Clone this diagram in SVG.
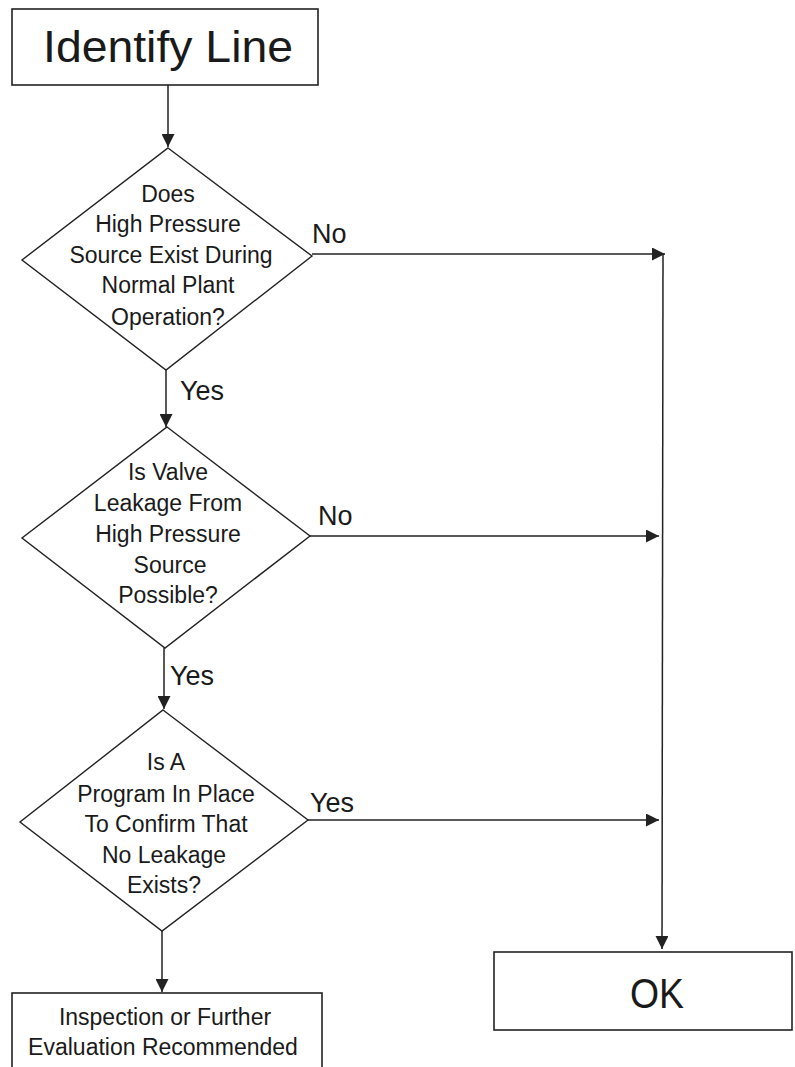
<svg xmlns="http://www.w3.org/2000/svg" width="795" height="1067" viewBox="0 0 795 1067">
  <style>
    .box { fill: #fff; stroke: #222; stroke-width: 1.6; }
    .dec { fill: #fff; stroke: #222; stroke-width: 1.4; }
    .link { fill: none; stroke: #222; stroke-width: 1.5; }
    text { font-family: "Liberation Sans", Arial, sans-serif; fill: #1a1a1a; }
    .big { font-size: 45px; text-anchor: middle; }
    .q { font-size: 23px; text-anchor: middle; }
    .lbl { font-size: 27px; }
    .ok { font-size: 42px; text-anchor: middle; }
  </style>
  <defs>
    <marker id="arrow" viewBox="0 0 10 10" refX="10" refY="5" markerUnits="userSpaceOnUse" markerWidth="15" markerHeight="13" orient="auto">
      <path d="M0,0 L10,5 L0,10 z" fill="#222"/>
    </marker>
  </defs>

  <!-- connectors -->
  <g id="connectors">
    <line class="link" x1="168" y1="85" x2="168" y2="147" marker-end="url(#arrow)"/>
    <line class="link" x1="166" y1="370" x2="166" y2="427" marker-end="url(#arrow)"/>
    <line class="link" x1="164" y1="648" x2="164" y2="709" marker-end="url(#arrow)"/>
    <line class="link" x1="162" y1="931" x2="162" y2="992" marker-end="url(#arrow)"/>
    <line class="link" x1="312" y1="254" x2="665" y2="254" marker-end="url(#arrow)"/>
    <line class="link" x1="310" y1="536" x2="659" y2="536" marker-end="url(#arrow)"/>
    <line class="link" x1="308" y1="820" x2="659" y2="820" marker-end="url(#arrow)"/>
    <line class="link" x1="663" y1="254" x2="662" y2="949" marker-end="url(#arrow)"/>
    <text class="lbl" x="312" y="243">No</text>
    <text class="lbl" x="318" y="525">No</text>
    <text class="lbl" x="310" y="812">Yes</text>
    <text class="lbl" x="180" y="400">Yes</text>
    <text class="lbl" x="170" y="685">Yes</text>
  </g>

  <g id="identify-line">
    <rect class="box" x="12" y="9" width="306" height="76"/>
    <text class="big" x="168" y="62" textLength="250" lengthAdjust="spacingAndGlyphs">Identify Line</text>
  </g>

  <g id="decision-high-pressure">
    <polygon class="dec" points="168,148 312,256 166,370 22,260"/>
    <text class="q" x="168" y="202">Does</text>
    <text class="q" x="168" y="232">High Pressure</text>
    <text class="q" x="171" y="263">Source Exist During</text>
    <text class="q" x="168" y="293">Normal Plant</text>
    <text class="q" x="168" y="325">Operation?</text>
  </g>

  <g id="decision-valve-leakage">
    <polygon class="dec" points="167,427 310,536 165,648 22,538"/>
    <text class="q" x="168" y="480">Is Valve</text>
    <text class="q" x="168" y="511">Leakage From</text>
    <text class="q" x="168" y="542">High Pressure</text>
    <text class="q" x="170" y="573">Source</text>
    <text class="q" x="168" y="603">Possible?</text>
  </g>

  <g id="decision-program">
    <polygon class="dec" points="163,710 308,820 162,931 20,822"/>
    <text class="q" x="166" y="770">Is A</text>
    <text class="q" x="166" y="802">Program In Place</text>
    <text class="q" x="166" y="832">To Confirm That</text>
    <text class="q" x="164" y="863">No Leakage</text>
    <text class="q" x="164" y="893">Exists?</text>
  </g>

  <g id="inspection">
    <rect class="box" x="12" y="993" width="310" height="90"/>
    <text class="q" x="165" y="1025">Inspection or Further</text>
    <text class="q" x="163" y="1055">Evaluation Recommended</text>
  </g>

  <g id="ok">
    <rect class="box" x="494" y="952" width="298" height="78"/>
    <text class="ok" x="657" y="1008" textLength="54" lengthAdjust="spacingAndGlyphs">OK</text>
  </g>
</svg>
